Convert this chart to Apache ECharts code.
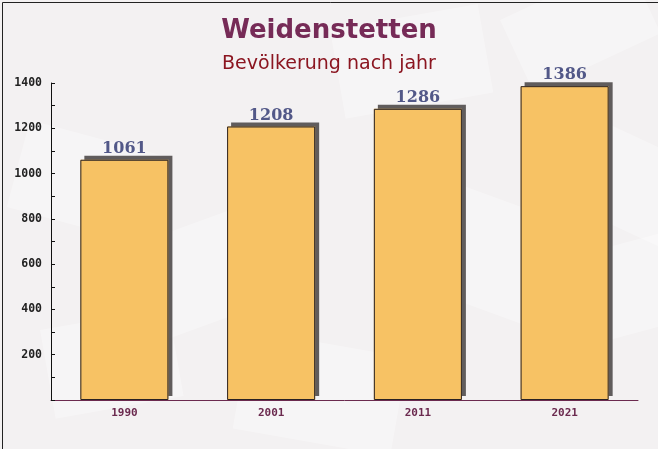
<!DOCTYPE html>
<html><head><meta charset="utf-8">
<script src="https://cdn.jsdelivr.net/npm/echarts@6/dist/echarts.min.js"></script>
<style>html,body{margin:0;padding:0;background:#f3f1f2}#c{width:658px;height:449px}</style>
</head><body><div id="c"></div>
<script>
const categories = ['1990', '2001', '2011', '2021'];
const population = [1061, 1208, 1286, 1386];
const yTicks = [0, 200, 400, 600, 800, 1000, 1200, 1400];

const chart = echarts.init(document.getElementById('c'), null, {renderer: 'canvas'});
const bgShapes = [
  [30, 120, 140, 90, -15], [120, 250, 160, 100, 20], [330, 30, 150, 90, 10],
  [420, 170, 170, 110, -20], [560, 260, 130, 90, 15], [250, 330, 160, 100, -10],
  [500, 20, 140, 80, 25], [40, 330, 130, 90, 10], [600, 120, 120, 90, -25]
];
const graphics = bgShapes.map(s => ({
  type: 'rect', x: s[0], y: s[1], rotation: s[4] * Math.PI / 180, z: -10,
  shape: {x: 0, y: 0, width: s[2], height: s[3]},
  style: {fill: 'rgba(255,255,255,0.3)'}
}));
graphics.push({type: 'rect', left: 0, top: 0, z: 100, silent: true,
  shape: {x: 0.5, y: 0.5, width: 657, height: 448},
  style: {fill: 'none', stroke: '#222', lineWidth: 1}});

chart.setOption({
  backgroundColor: '#f3f1f2',
  graphic: graphics,
  title: [
    {text: 'Weidenstetten', left: 'center', top: 13,
     textStyle: {fontFamily: 'DejaVu Sans', fontWeight: 'bold', fontSize: 26, color: '#762b57'}},
    {text: 'Bevölkerung nach jahr', left: 'center', top: 50,
     textStyle: {fontFamily: 'DejaVu Sans', fontWeight: 'normal', fontSize: 19, color: '#8b1520'}}
  ],
  grid: {left: 51, right: 20, top: 83, bottom: 49},
  xAxis: {
    type: 'category', data: categories,
    axisLine: {lineStyle: {color: '#6b2a4f', width: 1}},
    axisTick: {inside: true, length: 4, lineStyle: {color: '#555'}},
    axisLabel: {fontFamily: 'DejaVu Sans Mono', fontWeight: 'bold', fontSize: 11, color: '#6b2a4f', margin: 8}
  },
  yAxis: {
    type: 'value', min: yTicks[0], max: yTicks[yTicks.length - 1], interval: 200,
    axisLine: {show: true, lineStyle: {color: '#111', width: 1}},
    axisTick: {show: true, inside: true, length: 4, lineStyle: {color: '#111'}},
    minorTick: {show: true, splitNumber: 2, length: 4, lineStyle: {color: '#111'}},
    splitLine: {show: false},
    axisLabel: {fontFamily: 'DejaVu Sans Mono', fontWeight: 'bold', fontSize: 11.5, color: '#222', margin: 9,
      showMinLabel: false, formatter: v => String(v)}
  },
  series: [{
    type: 'bar', data: population, barWidth: '60%', z: 2,
    itemStyle: {
      color: '#f7c264', borderWidth: 0,
      shadowColor: 'rgba(80,75,75,0.9)', shadowBlur: 0, shadowOffsetX: 4, shadowOffsetY: -4
    }
  }, {
    type: 'bar', data: population, barWidth: '60%', barGap: '-100%', z: 3,
    itemStyle: {color: 'rgba(0,0,0,0)', borderColor: '#2a2222', borderWidth: 1},
    label: {show: true, position: 'top', distance: 3,
      fontFamily: 'DejaVu Serif', fontWeight: 'bold', fontSize: 16, color: '#525888'}
  }]
});
</script></body></html>
